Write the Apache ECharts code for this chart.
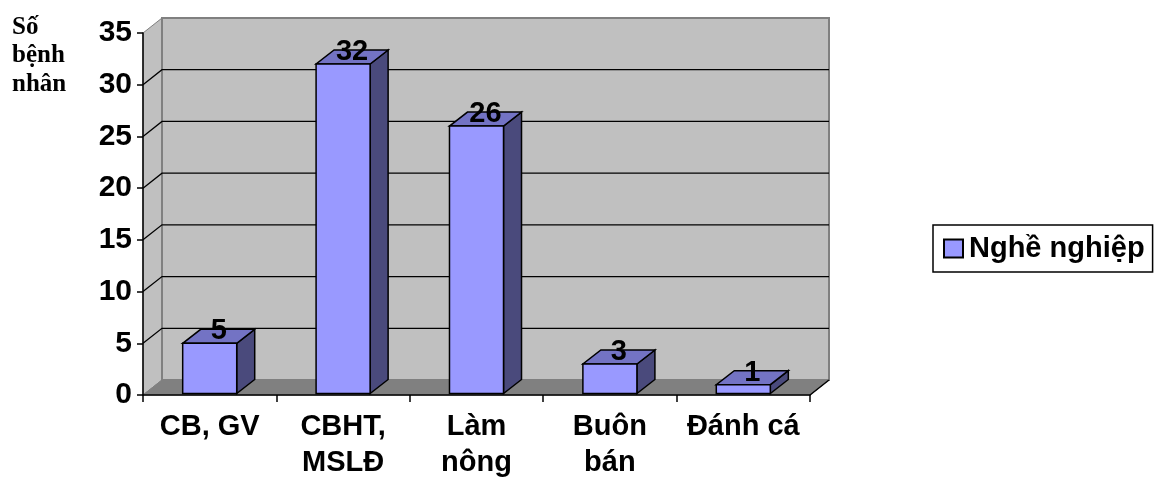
<!DOCTYPE html>
<html>
<head>
<meta charset="utf-8">
<script src="https://cdn.jsdelivr.net/npm/echarts@6/dist/echarts.min.js"></script>
<style>html,body{margin:0;padding:0;background:#fff}#c{width:1166px;height:481px}</style>
</head>
<body>
<div id="c"></div>
<script>
var categories = ['CB, GV', 'CBHT,\nMSLĐ', 'Làm\nnông', 'Buôn\nbán', 'Đánh cá'];
var values = [5, 32, 26, 3, 1];
var yTicks = [0, 5, 10, 15, 20, 25, 30, 35];
var seriesName = 'Nghề nghiệp';
var yAxisName = 'Số\nbệnh\nnhân';

var WALL_D = [19, -15];
var BAR_D = [18, -14];

var chart = echarts.init(document.getElementById('c'), null, {renderer: 'canvas'});

function renderWalls(params, api) {
  var cs = params.coordSys;
  var x0 = cs.x, x1 = cs.x + cs.width, yT = cs.y, yB = cs.y + cs.height;
  var dx = WALL_D[0], dy = WALL_D[1];
  var ch = [];
  ch.push({type: 'polygon', shape: {points: [[x0, yT], [x0 + dx, yT + dy], [x0 + dx, yB + dy], [x0, yB]]},
    style: {fill: '#c0c0c0', stroke: '#808080', lineWidth: 1}});
  ch.push({type: 'rect', shape: {x: x0 + dx, y: yT + dy, width: x1 - x0, height: yB - yT},
    style: {fill: '#c0c0c0', stroke: '#808080', lineWidth: 2}});
  ch.push({type: 'polygon', shape: {points: [[x0, yB], [x1, yB], [x1 + dx, yB + dy], [x0 + dx, yB + dy]]},
    style: {fill: '#808080', stroke: '#808080', lineWidth: 1}});
  ch.push({type: 'line', shape: {x1: x1, y1: yB, x2: x1 + dx, y2: yB + dy}, style: {stroke: '#000', lineWidth: 1.5}});
  for (var i = 0; i < yTicks.length; i++) {
    var v = yTicks[i];
    if (v === 0 || v === yTicks[yTicks.length - 1]) continue;
    var y = api.coord([0, v])[1];
    ch.push({type: 'polyline', shape: {points: [[x0, y], [x0 + dx, y + dy], [x1 + dx, y + dy]]},
      style: {stroke: '#000', lineWidth: 1.3, fill: null}});
  }
  return {type: 'group', children: ch};
}

function renderBar(params, api) {
  var idx = api.value(0), val = api.value(1);
  var top = api.coord([idx, val]);
  var base = api.coord([idx, 0]);
  var bw = api.size([1, 0])[0] * 0.405;
  var L = top[0] - bw / 2, R = top[0] + bw / 2;
  var yT = top[1], yB = base[1] - 1.5;
  var dx = BAR_D[0], dy = BAR_D[1];
  return {type: 'group', children: [
    {type: 'polygon', shape: {points: [[R, yT], [R + dx, yT + dy], [R + dx, yB + dy], [R, yB]]},
      style: {fill: '#4a4a7c', stroke: '#000', lineWidth: 1.5}},
    {type: 'polygon', shape: {points: [[L, yT], [R, yT], [R + dx, yT + dy], [L + dx, yT + dy]]},
      style: {fill: '#7373c4', stroke: '#000', lineWidth: 1.5}},
    {type: 'rect', shape: {x: L, y: yT, width: R - L, height: yB - yT},
      style: {fill: '#9999ff', stroke: '#000', lineWidth: 1.5}},
    {type: 'text', x: top[0] + dx / 2, y: yT - 12,
      style: {text: String(val), fill: '#000', font: 'bold 29px "Liberation Sans", Arial, sans-serif',
        align: 'center', verticalAlign: 'middle'}}
  ]};
}

var barData = values.map(function (v, i) { return [i, v]; });

chart.setOption({
  animation: false,
  backgroundColor: '#fff',
  grid: {left: 143, right: 356, top: 33, bottom: 86, containLabel: false},
  legend: {
    data: [{name: seriesName, icon: 'rect'}],
    left: 933, top: 225,
    padding: [9, 8, 9, 10],
    itemWidth: 19, itemHeight: 18, itemGap: 5,
    borderColor: '#000', borderWidth: 1.5, borderRadius: 0,
    textStyle: {color: '#000', fontSize: 29, fontWeight: 'bold', fontFamily: '"Liberation Sans", Arial, sans-serif', padding: [0, 0, 0, 1]}
  },
  graphic: [{
    type: 'text', left: 12, top: 13,
    style: {text: yAxisName, fill: '#000', font: 'bold 25px "Liberation Serif", "Times New Roman", serif', lineHeight: 28.5}
  }],
  xAxis: {
    type: 'category', data: categories, boundaryGap: true, z: 10,
    axisLine: {lineStyle: {color: '#000', width: 1.5}},
    axisTick: {show: true, length: 7, lineStyle: {color: '#000', width: 1.5}},
    axisLabel: {color: '#000', fontSize: 29, fontWeight: 'bold', fontFamily: '"Liberation Sans", Arial, sans-serif',
      lineHeight: 36, margin: 14, interval: 0},
    splitLine: {show: false}
  },
  yAxis: {
    type: 'value', min: 0, max: 35, interval: 5, z: 10,
    axisLine: {show: true, lineStyle: {color: '#000', width: 1.5}},
    axisTick: {show: true, length: 6, lineStyle: {color: '#000', width: 1.5}},
    axisLabel: {color: '#000', fontSize: 30, fontWeight: 'bold', fontFamily: '"Liberation Sans", Arial, sans-serif', margin: 11},
    splitLine: {show: false}
  },
  series: [
    {type: 'custom', name: 'walls', renderItem: renderWalls, data: [[0, 0]], silent: true, z: 1, clip: false},
    {type: 'custom', name: seriesName, renderItem: renderBar, data: barData, z: 3, clip: false,
      encode: {x: 0, y: 1},
      itemStyle: {color: '#9999ff', borderColor: '#000', borderWidth: 1}}
  ]
});
</script>
</body>
</html>
